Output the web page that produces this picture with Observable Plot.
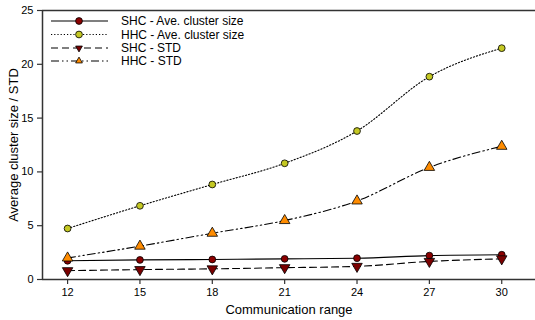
<!DOCTYPE html>
<html><head><meta charset="utf-8">
<script src="https://cdn.jsdelivr.net/npm/d3@7"></script>
<script src="https://cdn.jsdelivr.net/npm/@observablehq/plot@0.6"></script>
<style>
body{margin:0;background:#fff;font-family:"Liberation Sans",Arial,sans-serif;}
#wrap{position:relative;width:535px;height:320px;}
#legend{position:absolute;left:0;top:0;}
</style></head>
<body><div id="wrap"></div>
<script>
const ranges = [12, 15, 18, 21, 24, 27, 30];
const shcAvg = [1.74, 1.82, 1.86, 1.92, 1.98, 2.22, 2.3];
const hhcAvg = [4.74, 6.85, 8.83, 10.8, 13.8, 18.85, 21.5];
const shcStd = [0.82, 0.92, 0.99, 1.1, 1.22, 1.68, 1.92];
const hhcStd = [2.0, 3.1, 4.3, 5.48, 7.3, 10.42, 12.38];
const yTicks = [0, 5, 10, 15, 20, 25];
const seriesNames = ["SHC - Ave. cluster size", "HHC - Ave. cluster size", "SHC - STD", "HHC - STD"];

const styles = [
  {dash: null, symbol: "circle", fill: "#8b0000", rotate: 0, r: 3.4},
  {dash: "1.2,2", symbol: "circle", fill: "#c4c823", rotate: 0, r: 3.4},
  {dash: "7,4", symbol: "triangle", fill: "#7a0000", rotate: 180, r: 3.9},
  {dash: "8,3,1.5,3,1.5,3", symbol: "triangle", fill: "#ff8c00", rotate: 0, r: 3.9}
];
const seriesVals = [shcAvg, hhcAvg, shcStd, hhcStd];
const data = seriesVals.map((vals, i) => ranges.map((x, j) => ({x, y: vals[j], s: seriesNames[i]})));

const marks = [];
data.forEach((d, i) => {
  const st = styles[i];
  marks.push(Plot.line(d, {x: "x", y: "y", curve: "monotone-x", stroke: "#000", strokeWidth: 1.1, strokeDasharray: st.dash}));
});
data.forEach((d, i) => {
  const st = styles[i];
  marks.push(Plot.dot(d, {x: "x", y: "y", symbol: () => st.symbol, r: st.r, fill: st.fill, stroke: "#000", strokeWidth: 0.8, rotate: st.rotate}));
});

const chart = Plot.plot({
  width: 535, height: 320,
  marginLeft: 42, marginTop: 10, marginBottom: 41, marginRight: 0,
  style: {fontFamily: "Liberation Sans, Arial, sans-serif", fontSize: "11px", background: "#fff"},
  x: {domain: [10.96, 31.4], axis: null},
  y: {domain: [0, 25], axis: null},
  marks: [
    Plot.axisX({ticks: ranges, tickSize: 5, tickPadding: 4, fontSize: 11, stroke: "#333", strokeWidth: 1.2, label: null}),
    Plot.axisX({ticks: [], label: "Communication range", labelAnchor: "center", labelArrow: "none", labelOffset: 34, fontSize: 13}),
    Plot.axisY({ticks: yTicks, tickSize: 5, tickPadding: 4, fontSize: 11, stroke: "#333", strokeWidth: 1.2, label: null}),
    Plot.axisY({ticks: [], label: "Average cluster size / STD", labelAnchor: "center", labelArrow: "none", labelOffset: 34, fontSize: 13}),
    Plot.ruleY([0], {stroke: "#333", strokeWidth: 1.5}),
    Plot.ruleY([25], {stroke: "#333", strokeWidth: 1.5}),
    Plot.ruleX([10.96], {stroke: "#333", strokeWidth: 1.5}),
    ...marks
  ]
});
document.getElementById("wrap").appendChild(chart);

// Legend overlay
const lg = d3.select("#wrap").append("svg").attr("id", "legend").attr("width", 260).attr("height", 80);
const rowsY = [21, 34.5, 48, 61];
seriesNames.forEach((name, i) => {
  const st = styles[i];
  const y = rowsY[i];
  lg.append("line").attr("x1", 51).attr("x2", 108).attr("y1", y).attr("y2", y)
    .attr("stroke", "#000").attr("stroke-width", 1.1).attr("stroke-dasharray", st.dash);
  const path = st.symbol === "circle"
    ? d3.symbol(d3.symbolCircle, Math.PI * st.r * st.r)()
    : d3.symbol(d3.symbolTriangle, (st.r * st.r * 3 * Math.sqrt(3) / 4))();
  lg.append("path").attr("d", path).attr("transform", `translate(79,${y}) rotate(${st.rotate})`)
    .attr("fill", st.fill).attr("stroke", "#000").attr("stroke-width", 0.8);
  lg.append("text").attr("x", 121).attr("y", y).attr("dy", "0.35em")
    .attr("font-size", 12).attr("font-family", "Liberation Sans, Arial, sans-serif").text(name);
});
</script></body></html>
